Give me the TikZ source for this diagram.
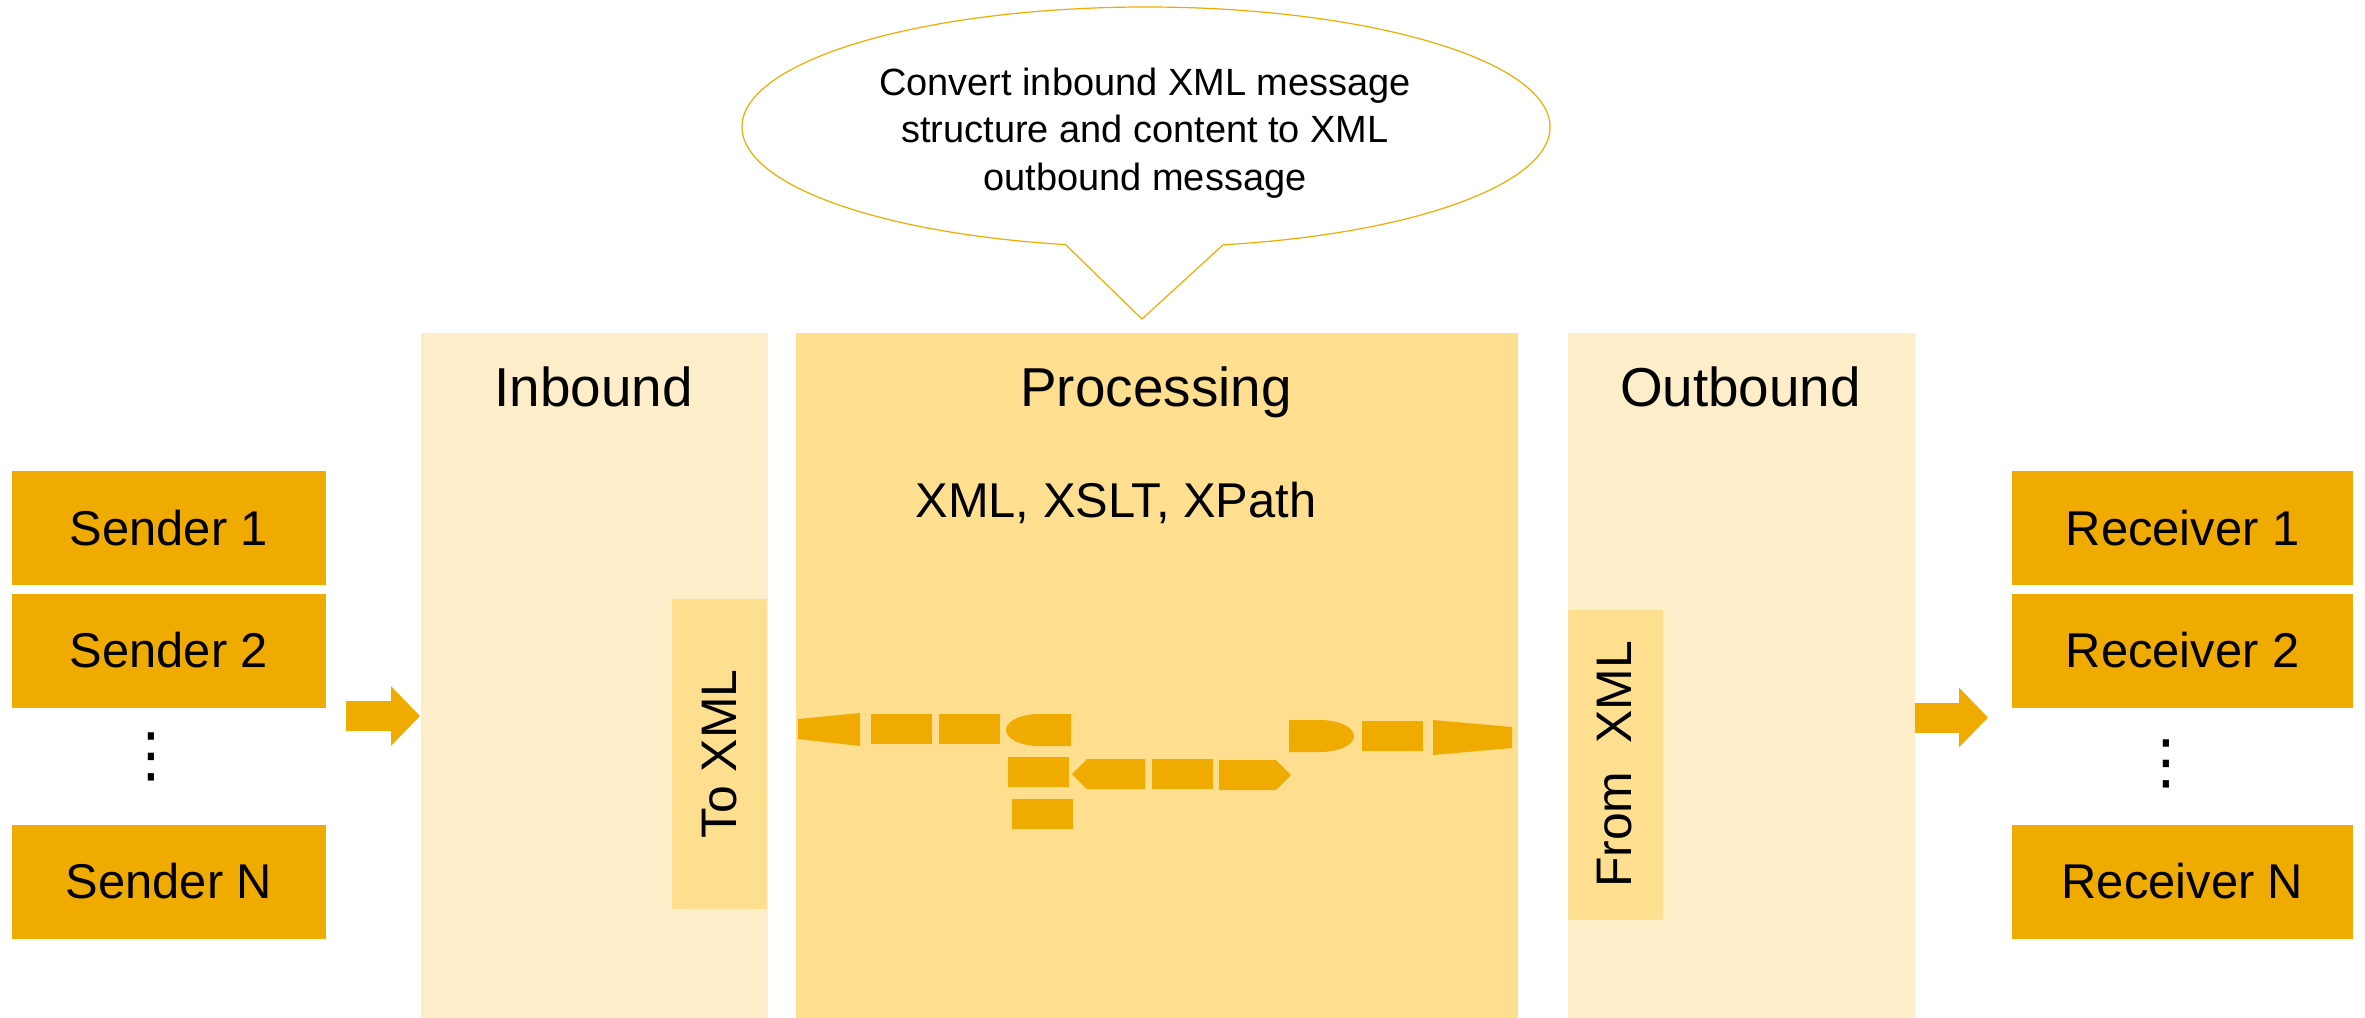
\documentclass[tikz,border=0pt]{standalone}
\usepackage{fontspec}
\setmainfont{Liberation Sans}
\newfontfamily\symfont{DejaVu Sans}
\usetikzlibrary{arrows.meta}
\definecolor{gold}{HTML}{F0AB00}
\definecolor{palegold}{HTML}{FDEDC8}
\definecolor{lightgold}{HTML}{FEDE8F}

\begin{document}
\begin{tikzpicture}[x=0.1mm,y=-0.1mm,
  party/.style={rectangle,fill=gold,inner sep=0,minimum height=11.4mm,font=\fontsize{13.9}{16.7}\selectfont},
  panel/.style={rectangle,anchor=north west,inner sep=0,minimum height=68.5mm},
  paneltitle/.style={anchor=base,font=\fontsize{15.6}{18.7}\selectfont},
  tag/.style={rectangle,rotate=90,fill=lightgold,inner sep=0,minimum width=31mm,minimum height=9.5mm,font=\fontsize{14.2}{17}\selectfont},
  dots/.style={inner sep=0,font=\symfont\fontsize{17}{20}\selectfont},
  bigarrow/.style={draw=gold,line width=3mm,-{Triangle[length=2.9mm,width=5.8mm]}},
  piece/.style={fill=gold}]
\useasboundingbox (0,0) rectangle (2365,1017);

% senders
\node[party,minimum width=31.4mm] (s1) at (169,528) {Sender 1};
\node[party,minimum width=31.4mm] (s2) at (169,650.5) {Sender 2};
\node[dots] (sdots) at (151,757) {⋮};
\node[party,minimum width=31.4mm] (sn) at (169,881.5) {Sender N};

% panels
\node[panel,fill=palegold,minimum width=34.7mm] (inbound) at (420,332) {};
\node[panel,fill=lightgold,minimum width=72.2mm] (processing) at (795,332) {};
\node[panel,fill=palegold,minimum width=34.7mm] (outbound) at (1567,332) {};
\node[paneltitle] (inboundtitle) at (593.5,406) {Inbound};
\node[paneltitle] (processingtitle) at (1156,406) {Processing};
\node[paneltitle] (outboundtitle) at (1740.5,406) {Outbound};
\node[anchor=base,font=\fontsize{13.9}{16.7}\selectfont] (tools) at (1116,517) {XML, XSLT, XPath};
\node[tag] (toxml) at (719.5,754) {To XML};
\node[tag] (fromxml) at (1615,764.5) {From\ \ XML};

% receivers
\node[party,minimum width=34.1mm] (r1) at (2182.5,528) {Receiver 1};
\node[party,minimum width=34.1mm] (r2) at (2182.5,650.5) {Receiver 2};
\node[dots] (rdots) at (2166,764) {⋮};
\node[party,minimum width=34.1mm] (rn) at (2182.5,881.5) {Receiver N};

% in and out
\coordinate (inarrow) at (346,716);
\draw[bigarrow] (inarrow) -- (inarrow -| inbound.west);
\coordinate (outarrow) at (1988,717.5);
\draw[bigarrow] (outarrow -| outbound.east) -- (outarrow);

% callout
\draw[gold,fill=white,line width=0.12mm] (1146,127) ++(79:404 and 120)
  arc[start angle=79,end angle=-258.5,x radius=404,y radius=120] -- (1142,319) -- cycle;
\node[align=center,font=\fontsize{10.8}{13.6}\selectfont] (note) at (1145,133)
  {Convert inbound XML message\\structure and content to XML\\outbound message};

% pipeline pieces
\foreach \x/\y in {871/714,939/714,1008/757,1152/759,1012/799,1362/721}
  \fill[piece] (\x,\y) rectangle ++(61,30);
\fill[piece] (798,719) -- (860,713) -- (860,746) -- (798,739) -- cycle;
\fill[piece] (1071,714) -- (1039,714) arc[start angle=-90,end angle=-270,x radius=33,y radius=16] -- (1071,746) -- cycle;
\fill[piece] (1072,774) -- (1087,759) -- (1145,759) -- (1145,789) -- (1087,789) -- cycle;
\fill[piece] (1219,760) -- (1276,760) -- (1291,775) -- (1276,790) -- (1219,790) -- cycle;
\fill[piece] (1289,720) -- (1320,720) arc[start angle=-90,end angle=90,x radius=34,y radius=16] -- (1289,752) -- cycle;
\fill[piece] (1433,720) -- (1512,727) -- (1512,748) -- (1433,755) -- cycle;
\end{tikzpicture}
\end{document}
